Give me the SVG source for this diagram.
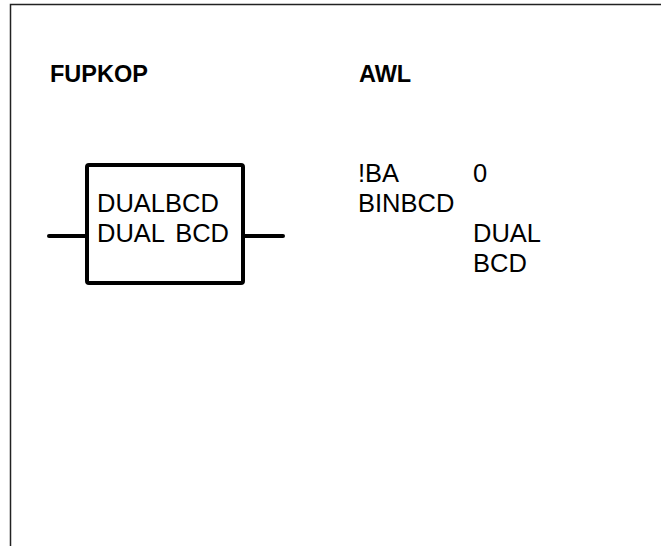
<svg xmlns="http://www.w3.org/2000/svg" width="661" height="546" viewBox="0 0 661 546">
<style>
.t{font-family:"Liberation Sans",Arial,sans-serif;font-size:25.5px;fill:#000}
.h{font-family:"Liberation Sans",Arial,sans-serif;font-size:23.5px;font-weight:bold;fill:#000}
.frame{fill:none;stroke:#222;stroke-width:1.5}
.box{fill:#fff;stroke:#000;stroke-width:4;stroke-linejoin:round}
.wire{stroke:#000;stroke-width:4;stroke-linecap:round}
</style>
<rect width="661" height="546" fill="#fff"/>
<path class="frame" d="M10.5,546 V4.5 H661"/>
<g id="headers">
<text class="h" x="50" y="82">FUPKOP</text>
<text class="h" x="359" y="82">AWL</text>
</g>
<g id="connectors">
<line class="wire" x1="49" y1="236" x2="87" y2="236"/>
<line class="wire" x1="243" y1="236" x2="283" y2="236"/>
</g>
<g id="block">
<rect class="box" x="87" y="165" width="156" height="118" rx="2"/>
<text class="t" x="97" y="212">DUALBCD</text>
<text class="t" x="97" y="242" word-spacing="4">DUAL BCD</text>
</g>
<g id="awl">
<text class="t" x="358" y="182">!BA</text>
<text class="t" x="473" y="182">0</text>
<text class="t" x="358" y="212">BINBCD</text>
<text class="t" x="473" y="242">DUAL</text>
<text class="t" x="473" y="272">BCD</text>
</g>
</svg>
